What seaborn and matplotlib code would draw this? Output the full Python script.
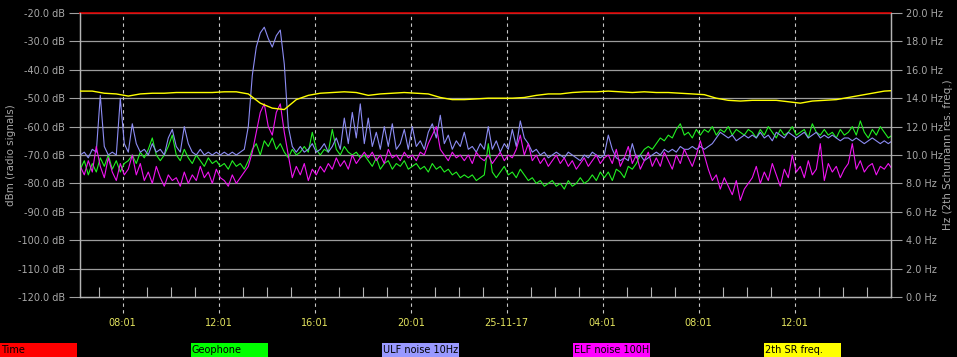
import numpy as np
import pandas as pd
import matplotlib
matplotlib.use("Agg")
import matplotlib.pyplot as plt
from matplotlib.patches import Rectangle
from matplotlib.ticker import FixedLocator, FuncFormatter
import seaborn as sns

# ---------------- data ----------------
START_HOUR = 6.25          # 06:15 on 24-11-17 (hours since 24-11-17 00:00)
STEP_MIN = 10              # sampling step of the noise series
SR_STEP_MIN = 30           # sampling step of the Schumann series

ulf_db = [
    -70, -69, -71, -68, -69, -49, -67, -70, -69, -70, -50, -66,
    -69, -59, -66, -69, -68, -70, -66, -69, -68, -70, -64, -61,
    -67, -69, -60, -66, -69, -70, -68, -70, -69, -70, -69, -70,
    -69, -70, -69, -70, -69, -68, -60, -42, -32, -27, -25, -29,
    -32, -28, -26, -38, -60, -67, -69, -67, -69, -68, -66, -69,
    -68, -66, -69, -67, -64, -68, -57, -66, -55, -64, -52, -66,
    -57, -67, -62, -68, -60, -67, -59, -68, -66, -61, -68, -60,
    -67, -65, -68, -62, -59, -64, -56, -66, -63, -68, -65, -67,
    -62, -68, -67, -69, -66, -68, -60, -68, -65, -69, -66, -68,
    -61, -67, -58, -64, -66, -69, -68, -70, -69, -71, -70, -69,
    -70, -71, -69, -70, -71, -72, -70, -71, -69, -70, -71, -70,
    -63, -68, -71, -72, -71, -72, -66, -71, -70, -72, -71, -70,
    -69, -70, -68, -69, -68, -69, -67, -68, -68, -67, -68, -67,
    -68, -67, -66, -64, -62, -63, -64, -63, -65, -64, -63, -64,
    -63, -64, -62, -64, -63, -65, -62, -63, -64, -62, -63, -64,
    -63, -62, -64, -63, -62, -64, -63, -64, -63, -64, -65, -64,
    -64, -65, -64, -65, -66, -65, -64, -65, -66, -65, -66, -65,
]

geo_db = [
    -75, -72, -77, -73, -76, -71, -74, -70, -75, -72, -76, -73,
    -72, -70, -73, -69, -71, -68, -64, -70, -72, -70, -67, -63,
    -70, -72, -68, -71, -73, -70, -72, -74, -71, -73, -72, -74,
    -73, -75, -72, -74, -73, -75, -72, -68, -66, -70, -65, -67,
    -64, -68, -66, -69, -71, -68, -70, -69, -67, -69, -62, -68,
    -70, -68, -69, -61, -68, -70, -67, -69, -70, -69, -71, -70,
    -72, -74, -71, -75, -73, -72, -75, -73, -74, -72, -75, -74,
    -73, -75, -74, -76, -73, -75, -74, -76, -75, -77, -76, -78,
    -77, -78, -77, -79, -78, -77, -66, -76, -78, -76, -74, -77,
    -76, -78, -75, -77, -79, -78, -80, -79, -81, -80, -79, -81,
    -80, -82, -79, -81, -80, -78, -80, -79, -77, -79, -76, -78,
    -76, -79, -75, -76, -78, -74, -75, -73, -70, -68, -67, -68,
    -66, -64, -65, -63, -64, -61, -59, -63, -62, -64, -61, -63,
    -61, -62, -60, -63, -61, -62, -60, -63, -61, -62, -63, -61,
    -62, -64, -61, -63, -60, -62, -64, -61, -63, -62, -60, -63,
    -62, -61, -64, -59, -62, -63, -61, -63, -62, -64, -61, -63,
    -62, -60, -63, -58, -62, -64, -61, -63, -60, -62, -64, -63,
]

elf_db = [
    -74, -77, -72, -76, -67, -74, -78, -71, -76, -79, -73, -77,
    -75, -70, -77, -73, -79, -76, -80, -74, -78, -81, -77, -79,
    -78, -81, -76, -80, -77, -79, -74, -78, -76, -80, -75, -78,
    -79, -81, -77, -80, -78, -76, -74, -69, -62, -55, -52, -60,
    -63, -55, -52, -62, -70, -78, -74, -77, -73, -79, -75, -77,
    -74, -76, -73, -75, -71, -74, -72, -75, -70, -73, -71, -69,
    -71, -69, -72, -70, -73, -68, -71, -70, -72, -69, -71, -70,
    -72, -69, -70, -66, -63, -60, -68, -70, -72, -69, -71, -70,
    -72, -70, -73, -69, -71, -72, -70, -73, -71, -69, -72, -70,
    -71, -68, -63, -70, -66, -72, -70, -73, -71, -74, -72, -70,
    -73, -71, -74, -72, -75, -73, -71, -74, -72, -70, -73, -71,
    -70, -73, -68, -74, -71, -67, -73, -70, -75, -72, -69, -74,
    -71, -74, -69, -72, -75, -70, -73, -68, -71, -74, -70, -65,
    -70, -75, -79, -77, -82, -78, -81, -84, -79, -86, -82, -80,
    -78, -74, -80, -76, -79, -73, -77, -81, -75, -78, -70, -76,
    -74, -78, -72, -77, -75, -66, -79, -73, -76, -74, -78, -75,
    -73, -66, -75, -72, -76, -74, -73, -77, -74, -75, -73, -75,
]

sr_hz = [
    14.5, 14.5, 14.35, 14.3, 14.15, 14.3, 14.35, 14.35, 14.4, 14.4, 14.4, 14.4,
    14.45, 14.45, 14.3, 13.65, 13.3, 13.2, 13.9, 14.2, 14.35, 14.4, 14.45, 14.4,
    14.2, 14.3, 14.35, 14.4, 14.35, 14.3, 14.05, 13.9, 13.9, 13.95, 14.0, 14.0,
    14.0, 14.05, 14.2, 14.3, 14.3, 14.4, 14.45, 14.45, 14.5, 14.45, 14.4, 14.45,
    14.4, 14.4, 14.35, 14.3, 14.25, 14.0, 13.85, 13.8, 13.85, 13.85, 13.85, 13.75,
    13.65, 13.8, 13.85, 13.9, 14.05, 14.2, 14.35, 14.5, 14.55,
]

time_hours = [6.238, 40.0167]
time_db = [-20.0, -20.0]

tick_hours = [8 + 1/60, 12 + 1/60, 16 + 1/60, 20 + 1/60,
              24 + 1/60, 28 + 1/60, 32 + 1/60, 36 + 1/60]
tick_labels = ["08:01", "12:01", "16:01", "20:01",
               "25-11-17", "04:01", "08:01", "12:01"]

legend_names = ["Time", "Geophone", "ULF noise 10Hz", "ELF noise 100H", "2th SR freq."]
legend_colors = ["#ff0000", "#00ff00", "#9999ff", "#ff00ff", "#ffff00"]

# ---------------- frames ----------------
n = len(ulf_db)
hours = START_HOUR + np.arange(n) * STEP_MIN / 60.0
df = pd.concat([
    pd.DataFrame({"hour": hours, "value": geo_db, "series": "Geophone"}),
    pd.DataFrame({"hour": hours, "value": ulf_db, "series": "ULF noise 10Hz"}),
    pd.DataFrame({"hour": hours, "value": elf_db, "series": "ELF noise 100H"}),
], ignore_index=True)
sr_df = pd.DataFrame({"hour": START_HOUR + np.arange(len(sr_hz)) * SR_STEP_MIN / 60.0,
                      "hz": sr_hz})
time_df = pd.DataFrame({"hour": time_hours, "db": time_db})

# ---------------- figure ----------------
plt.rcParams["font.family"] = ["DejaVu Sans"]
W, H = 957, 357
fig = plt.figure(figsize=(W / 100, H / 100), dpi=100, facecolor="black")
AX_W = 890.7 - 80
ax = fig.add_axes([80 / W, 1 - 297 / H, AX_W / W, (297 - 13) / H])
ax.set_facecolor("black")

GRAY = "#a8a8a8"
line_colors = {"Geophone": "#22f022", "ULF noise 10Hz": "#8c8cf4", "ELF noise 100H": "#f014f0"}

ax.set_xlim(6.238, 40.0167)
ax.set_ylim(-120, -20)

# grid
for yv in range(-110, -19, 10):
    ax.axhline(yv, color="#9c9c9c", lw=0.9, zorder=1)
ax.vlines(tick_hours, -0.058, 1, transform=ax.get_xaxis_transform(), clip_on=False,
          colors="#c8c8c8", linestyles=(0, (3, 3)), lw=0.8, zorder=1)

sns.lineplot(data=df, x="hour", y="value", hue="series",
             hue_order=["Geophone", "ULF noise 10Hz", "ELF noise 100H"],
             palette=line_colors, estimator=None, legend=False, lw=0.8, ax=ax, zorder=3)
sns.lineplot(data=time_df, x="hour", y="db", color="#dd0000", lw=1.2, ax=ax,
             legend=False, zorder=4)
for l in ax.lines[-1:]:
    l.set_clip_on(False)

ax2 = ax.twinx()
ax2.set_ylim(0, 20)
sns.lineplot(data=sr_df, x="hour", y="hz", color="#ffff00", lw=1.0, ax=ax2,
             legend=False, zorder=5)
ax2.set_xlim(6.238, 40.0167)

# axes styling
for a in (ax, ax2):
    a.spines["top"].set_visible(False)
    for s in ("left", "right", "bottom"):
        a.spines[s].set_color("#b4b4b4")
        a.spines[s].set_linewidth(0.9)

ax.set_yticks(list(range(-120, -19, 10)))
ax.yaxis.set_major_formatter(FuncFormatter(lambda v, p: f"{v:.1f} dB"))
ax.tick_params(axis="y", direction="out", length=8, width=0.8, color="#a0a0a0",
               labelcolor=GRAY, labelsize=7, pad=3)
ax2.set_yticks(list(range(0, 21, 2)))
ax2.yaxis.set_major_formatter(FuncFormatter(lambda v, p: f"{v:.1f} Hz"))
ax2.tick_params(axis="y", direction="out", length=8, width=0.8, color="#a0a0a0",
                labelcolor=GRAY, labelsize=7, pad=3)

ax.xaxis.set_major_locator(FixedLocator(tick_hours))
ax.set_xticklabels(tick_labels)
ax.xaxis.set_minor_locator(FixedLocator([h + 1/60 for h in range(7, 41)]))
ax.tick_params(axis="x", which="major", length=0, pad=15, labelcolor="#e4e45e", labelsize=7)
ax.tick_params(axis="x", which="minor", direction="in", length=7, width=0.8, color="#b4b4b4")

ax.set_xlabel("")
ax.set_ylabel("dBm (radio signals)", color=GRAY, fontsize=7.5)
ax.yaxis.set_label_coords(-(80 - 16) / AX_W, 0.5)
ax2.set_ylabel("Hz (2th Schumann res. freq.)", color=GRAY, fontsize=7.5)
ax2.yaxis.set_label_coords(1 + (943 - 890.7) / AX_W, 0.5)
ax2.yaxis.label.set_rotation(90)

# legend boxes along the bottom
for i, (name, col) in enumerate(zip(legend_names, legend_colors)):
    x0 = 191 * i
    fig.patches.append(Rectangle((x0 / W, 0), 77 / W, 14 / H, transform=fig.transFigure,
                                 facecolor=col, edgecolor="none"))
    fig.text((x0 + 1) / W, 7 / H, name, color="black", fontsize=7, va="center", ha="left")

fig.savefig("out.png", dpi=100, facecolor="black")
